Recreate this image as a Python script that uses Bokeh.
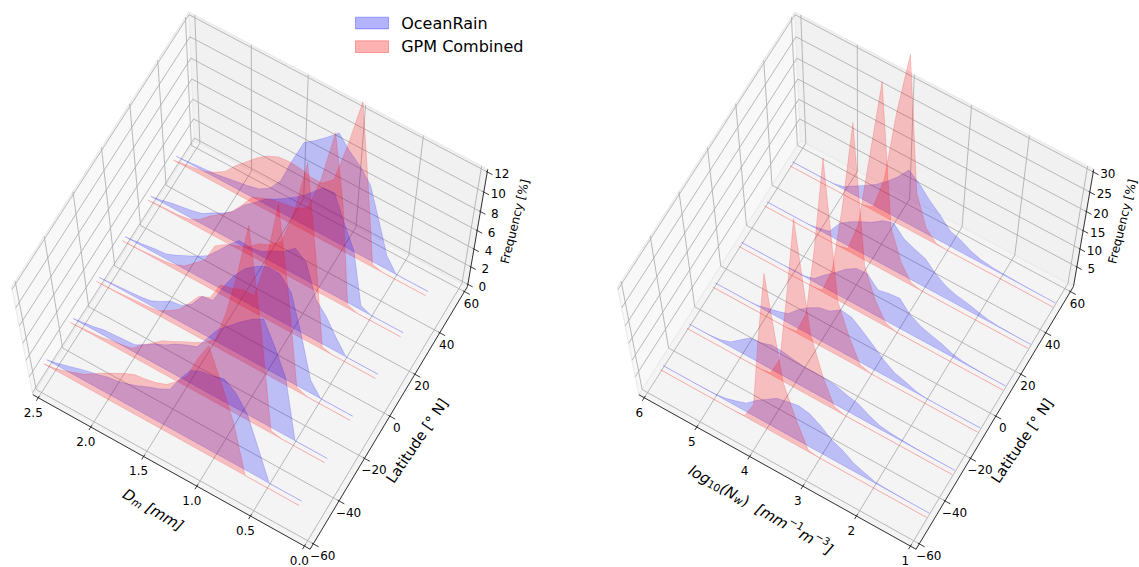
import math
import numpy as np
from bokeh.core.properties import value
from bokeh.embed import file_html
from bokeh.models import Range1d
from bokeh.plotting import figure
from bokeh.resources import INLINE

# ---------- data ----------
LAT_RED = [-50, -30, -10, 10, 30, 50]
LAT_BLUE = [-48, -28, -8, 12, 32, 52]

DM = [0.2, 0.3, 0.4, 0.5, 0.6, 0.7, 0.8, 0.9, 1.0, 1.1, 1.2, 1.3, 1.4, 1.5, 1.6, 1.7, 1.8, 1.9, 2.0, 2.1, 2.2, 2.3, 2.4, 2.5, 2.6]
DM_BLUE_1 = [0, 0, 0, 0, 3.7, 7.3, 9.1, 10, 9.6, 9.4, 8.8, 7.1, 5.1, 4.4, 3.9, 3.3, 2.8, 2.4, 2.2, 1.8, 1.5, 1.1, .7, .3, 0]
DM_BLUE_2 = [0, 0, 0, 0, 7, 9.9, 12.3, 11.6, 10.6, 9.5, 8.4, 6.7, 5, 4.5, 3.9, 3.1, 2.5, 1.7, 1, .9, .8, .7, .4, .2, 0]
DM_BLUE_3 = [0, 0, 0, 0, 1.6, 6.3, 10.3, 11.6, 11.7, 11.1, 10.2, 8.8, 6.9, 4.7, 4.5, 2.9, 2.1, 1.9, 1.2, .6, .4, .3, .2, .1, 0]
DM_BLUE_4 = [0, 0, 0, 0, 1.6, 3.4, 4.7, 8.1, 9, 8, 7.4, 6.7, 6.5, 6.6, 5.5, 4.2, 3, 2.3, 1.7, 1.1, .6, .5, .3, .15, 0]
DM_BLUE_5 = [0, 0, 0, 0, .5, 6, 8.3, 10.8, 10.7, 9.6, 8.6, 7.8, 7.1, 6.5, 5.5, 4.6, 3.3, 2.5, 1.9, 1.2, .9, .7, .5, .2, 0]
DM_BLUE_6 = [0, 0, 0, 0, 1.5, 4.7, 7.8, 9.1, 10, 11.2, 10.2, 9.3, 8.5, 6.1, 3.4, 2, 1.3, 1, .8, .6, .4, .3, .2, .1, 0]
DM_RED_1 = [0, 0, 0, 0, 0, 0, 6.1, 10, 13.5, 11.4, 8.7, 7.3, 6.2, 5.7, 5.4, 5.2, 4.6, 3.9, 3.2, 2.4, 1.6, 1.1, .6, .2, 0]
DM_RED_2 = [0, 0, 0, 0, 0, .3, 12, 21.5, 16, 11.4, 7.8, 6.7, 6, 5.4, 4.7, 4.1, 3.1, 2.2, 1.1, .8, .6, .3, .2, .1, 0]
DM_RED_3 = [0, 0, 0, 0, 0, .5, 10.5, 19, 12.6, 8.4, 8.4, 7.9, 7.6, 5.5, 5, 3.5, 2.1, 1.3, .6, .4, .3, .2, .1, .05, 0]
DM_RED_4 = [0, 0, 0, 0, 0, .3, 10, 18.5, 13, 9.5, 8.5, 8, 7, 6.5, 6, 5.2, 3, 2, 1, .5, .3, .2, .1, .05, 0]
DM_RED_5 = [0, 0, 0, 0, 0, .4, 10.5, 17, 12, 8.5, 7.8, 7.6, 7.4, 7, 6.5, 5, 3.7, 2.8, 2, 1, .4, .2, .15, .1, 0]
DM_RED_6 = [0, 0, 0, 0, 0, .3, 8.2, 15.7, 11, 7, 6, 6, 6.3, 6.4, 6.3, 5.8, 5, 4, 3, 1.8, 1.1, .6, .4, .2, 0]

NW = [1.0, 1.2, 1.4, 1.6, 1.8, 2.0, 2.2, 2.4, 2.6, 2.8, 3.0, 3.2, 3.4, 3.6, 3.8, 4.0, 4.2, 4.4, 4.6, 4.8, 5.0, 5.2, 5.4, 5.6, 5.8, 6.0]
NW_BLUE_1 = [0, 0, .05, .1, .2, .4, 1.5, 2.7, 4.9, 6.4, 9, 10.9, 11.5, 10.8, 10, 7.8, 5.6, 2.9, 1.7, .7, .2, .1, 0, 0, 0, 0]
NW_BLUE_2 = [0, 0, .05, .1, .2, .4, .6, 1.1, 2.5, 4.3, 5, 6, 6.4, 6.5, 6.5, 7, 7.6, 7.7, 6.6, 6.3, 4, 1.6, .5, .1, 0, 0]
NW_BLUE_3 = [0, 0, 0, 0, 0, 0, .5, 1.6, 2.5, 4.5, 7.2, 9.7, 12, 12.5, 10.4, 9.7, 8, 5.7, 2.8, 1.8, 1, .2, 0, 0, 0, 0]
NW_BLUE_4 = [0, 0, .1, .2, .4, 1, 2.2, 3, 4, 5.6, 8.7, 8.4, 7.7, 10.7, 10.5, 8.6, 6, 3.7, 1, .2, .2, 0, 0, 0, 0, 0]
NW_BLUE_5 = [0, 0, .1, .2, .5, 1.2, 2, 2.5, 3.5, 5.3, 8, 9, 10.2, 13, 12, 10, 8.6, 7, 5, 1.2, .5, 0, 0, 0, 0, 0]
NW_BLUE_6 = [0, 0, .05, .1, .2, .3, .5, .9, 1.8, 3.3, 4.2, 7, 9.3, 12.2, 14.3, 11, 8.3, 6, 4.2, 2.5, .8, .1, 0, 0, 0, 0]
NW_RED_1 = [0, 0, 0, 0, 0, 0, 0, 0, 0, 0, 0, .5, 8.4, 18, 45.8, 27, 5.6, .3, 0, 0, 0, 0, 0, 0, 0, 0]
NW_RED_2 = [0, 0, 0, 0, 0, 0, 0, 0, 0, 0, 0, 1, 8.6, 19.4, 47.5, 26, 6.5, .5, 0, 0, 0, 0, 0, 0, 0, 0]
NW_RED_3 = [0, 0, 0, 0, 0, 0, 0, 0, 0, 0, 0, 1, 7.5, 16, 50.6, 27, 7.5, .5, 0, 0, 0, 0, 0, 0, 0, 0]
NW_RED_4 = [0, 0, 0, 0, 0, 0, 0, 0, 0, 0, 0, 1, 6, 14, 48, 26, 8, .5, 0, 0, 0, 0, 0, 0, 0, 0]
NW_RED_5 = [0, 0, 0, 0, 0, 0, 0, 0, 0, 0, 0, .7, 5, 13, 46.8, 28, 9, .7, 0, 0, 0, 0, 0, 0, 0, 0]
NW_RED_6 = [0, 0, 0, 0, 0, 0, 0, 0, 0, 0, 0, .3, 3, 11, 42.8, 28.5, 10, 1, 0, 0, 0, 0, 0, 0, 0, 0]

DM_TICKS = [0.0, 0.5, 1.0, 1.5, 2.0, 2.5]
DM_LABELS = ["0.0", "0.5", "1.0", "1.5", "2.0", "2.5"]
NW_TICKS = [1, 2, 3, 4, 5, 6]
NW_LABELS = ["1", "2", "3", "4", "5", "6"]
LAT_TICKS = [-60, -40, -20, 0, 20, 40, 60]
LAT_LABELS = ["\u221260", "\u221240", "\u221220", "0", "20", "40", "60"]
FREQ_TICKS_L = [0, 2, 4, 6, 8, 10, 12]
FREQ_TICKS_R = [5, 10, 15, 20, 25, 30]
LEGEND_NAMES = ["OceanRain", "GPM Combined"]

BLUE, RED = "#0000ff", "#ff0000"
FONT = value("DejaVu Sans")
W, H = 1139, 567
PAD = 1 / 48
U0, U1 = -PAD, 1 + PAD

# ---------- camera: fitted to where the box's ticks sit in the page ----------
CAL = [
    (1, U0, U0, 37.7, 397.7), (.8, U0, U0, 90.7, 427), (.6, U0, U0, 143, 456),
    (.4, U0, U0, 196.7, 485), (.2, U0, U0, 250, 514), (0, U0, U0, 303.5, 544.5),
    (U0, 0, U0, 312.7, 544.3), (U0, 1 / 6, U0, 338.3, 501), (U0, 2 / 6, U0, 364.3, 458),
    (U0, .5, U0, 390, 416.3), (U0, 4 / 6, U0, 415, 374.5), (U0, 5 / 6, U0, 440, 333.3), (U0, 1, U0, 464, 291.7),
    (U0, U1, 0, 467, 283.5), (U0, U1, 1 / 6, 468.9, 265.8), (U0, U1, 2 / 6, 472.3, 249),
    (U0, U1, .5, 476.7, 230), (U0, U1, 4 / 6, 480, 210.7), (U0, U1, 5 / 6, 484, 191.7), (U0, U1, 1, 485.7, 170),
    (1, U1, U1, 194.3, 16), (.8, U1, U1, 250.7, 45), (.6, U1, U1, 307.3, 75),
    (.4, U1, U1, 365, 104), (.2, U1, U1, 423.3, 135), (0, U1, U1, 482.3, 165.7),
    (U1, 0, U1, 14, 280), (U1, 1 / 6, U1, 43.3, 238), (U1, 2 / 6, U1, 72.7, 190), (U1, .5, U1, 101, 146.7),
    (U1, 4 / 6, U1, 129, 103.3), (U1, 5 / 6, U1, 156.7, 60), (U1, 1, U1, 186.7, 16),
    (1, U1, U0, 199, 141), (U1, 1, U0, 191, 145),
]
A, b = [], []
for u, v, w, X, Y in CAL:
    A.append([u, v, w, 1, 0, 0, 0, 0, -X * u, -X * v, -X * w]); b.append(X)
    A.append([0, 0, 0, 0, u, v, w, 1, -Y * u, -Y * v, -Y * w]); b.append(Y)
CAM = np.append(np.linalg.lstsq(np.array(A, float), np.array(b, float), rcond=None)[0], 1.0).reshape(3, 4)


def project(u, v, w, dx=0.0):
    pts = np.stack([np.asarray(u, float), np.asarray(v, float), np.asarray(w, float), np.ones_like(np.asarray(u, float))])
    q = CAM @ pts
    return q[0] / q[2] + dx, q[1] / q[2]


p = figure(width=W, height=H, x_range=Range1d(0, W), y_range=Range1d(H, 0),
           output_backend="svg", toolbar_location=None, min_border=0)
p.axis.visible = False
p.grid.visible = False
p.outline_line_color = None
p.background_fill_color = "white"
p.border_fill_color = "white"


def put_text(x, y, s, size=12, angle=0.0, align="center", baseline="middle", style="normal", color="#000000"):
    p.text([x], [y], text=[s], angle=angle, text_font=FONT, text_font_size=f"{size}px",
           text_align=align, text_baseline=baseline, text_font_style=style, text_color=color)


def put_rich(cx, cy, deg, pieces):
    # pieces: text, size, width in em, perpendicular shift in em of the base size, style
    a = math.radians(deg)
    ux, uy = math.cos(a), -math.sin(a)
    nx, ny = math.sin(a), math.cos(a)
    total = sum(s * e for _, s, e, _, _ in pieces)
    base = max(s for _, s, _, _, _ in pieces)
    pos = -total / 2
    for txt, s, e, sh, st in pieces:
        off = 0.35 * base + sh * base
        if txt.strip():
            put_text(cx + ux * pos + nx * off, cy + uy * pos + ny * off, txt, size=s, angle=a,
                     align="left", baseline="alphabetic", style=st)
        pos += s * e


def seg(pts, dx, color="#b0b0b0", width=0.9):
    us, vs, ws = zip(*pts)
    xs, ys = project(us, vs, ws, dx)
    p.line(list(xs), list(ys), line_color=color, line_width=width)


def panel(dx, xvals, xmin, xmax, zmax, blues, reds, xticks, xlabels, zticks):
    to_u = lambda x: (np.asarray(x, float) - xmin) / (xmax - xmin)
    to_v = lambda lat: (np.asarray(lat, float) + 60) / 120
    to_w = lambda z: np.asarray(z, float) / zmax

    for quad, col in (
        ([(U1, U0, U0), (U1, U1, U0), (U1, U1, U1), (U1, U0, U1)], "#f8f8f8"),
        ([(U0, U1, U0), (U1, U1, U0), (U1, U1, U1), (U0, U1, U1)], "#f1f1f1"),
        ([(U0, U0, U0), (U1, U0, U0), (U1, U1, U0), (U0, U1, U0)], "#f4f4f4"),
    ):
        us, vs, ws = zip(*quad)
        xs, ys = project(us, vs, ws, dx)
        p.patch(list(xs), list(ys), fill_color=col, line_color="#ebebeb", line_width=1.2)

    for t in xticks:
        u = float(to_u(t))
        seg([(u, U0, U0), (u, U1, U0), (u, U1, U1)], dx)
    for t in LAT_TICKS:
        v = float(to_v(t))
        seg([(U0, v, U0), (U1, v, U0), (U1, v, U1)], dx)
    for t in zticks:
        w = float(to_w(t))
        seg([(U1, U0, w), (U1, U1, w), (U0, U1, w)], dx)

    seg([(U0, U0, U0), (U1, U0, U0)], dx, "#333333", 1)
    seg([(U0, U0, U0), (U0, U1, U0)], dx, "#333333", 1)
    seg([(U0, U1, U0), (U0, U1, U1)], dx, "#333333", 1)

    for t, s in zip(xticks, xlabels):
        u = float(to_u(t))
        seg([(u, U0 + .007, U0), (u, U0 - .012, U0)], dx, "#222222", 0.9)
        x, y = project([u], [U0], [U0], dx)
        put_text(float(x[0]) - 5, float(y[0]) + 14.5, s)
    for t, s in zip(LAT_TICKS, LAT_LABELS):
        v = float(to_v(t))
        seg([(U0 + .005, v, U0), (U0 - .02, v, U0)], dx, "#222222", 0.9)
        x, y = project([U0], [v], [U0], dx)
        put_text(float(x[0]) + (9.5 if t < 0 else 7), float(y[0]) + 11.5, s)
    for t in zticks:
        w = float(to_w(t))
        seg([(U0 + .004, U1, w), (U0 - .018, U1, w)], dx, "#222222", 0.9)
        x, y = project([U0], [U1], [w], dx)
        put_text(float(x[0]) + 14.5, float(y[0]) + 1.8, str(t))

    # back to front, the blue sheet of each band just behind the red one
    for blue, red, lb, lr in list(zip(blues, reds, LAT_BLUE, LAT_RED))[::-1]:
        for zs, lat, col in ((blue, lb, BLUE), (red, lr, RED)):
            u = to_u(xvals)
            xs, ys = project(u, np.full_like(u, float(to_v(lat))), to_w(zs), dx)
            x0, y0 = project(u[[0, -1]], np.full(2, float(to_v(lat))), np.zeros(2), dx)
            px = [float(x0[0])] + list(xs) + [float(x0[1])]
            py = [float(y0[0])] + list(ys) + [float(y0[1])]
            p.patch(px, py, fill_color=col, fill_alpha=0.22, line_color=col, line_alpha=0.16, line_width=1)


panel(0.0, DM, 0.0, 2.5, 12.0,
      [DM_BLUE_1, DM_BLUE_2, DM_BLUE_3, DM_BLUE_4, DM_BLUE_5, DM_BLUE_6],
      [DM_RED_1, DM_RED_2, DM_RED_3, DM_RED_4, DM_RED_5, DM_RED_6],
      DM_TICKS, DM_LABELS, FREQ_TICKS_L)
panel(606.0, NW, 1.0, 6.0, 30.0,
      [NW_BLUE_1, NW_BLUE_2, NW_BLUE_3, NW_BLUE_4, NW_BLUE_5, NW_BLUE_6],
      [NW_RED_1, NW_RED_2, NW_RED_3, NW_RED_4, NW_RED_5, NW_RED_6],
      NW_TICKS, NW_LABELS, FREQ_TICKS_R)

# axis titles
put_rich(155.3, 505, -30.7, [("D", 15, .77, 0, "italic"), ("m", 10.5, .974, .15, "italic"),
                             (" ", 15, .318, 0, "normal"), ("[mm]", 15, 2.73, 0, "italic")])
put_rich(762.7, 505, -30, [("log", 15, 1.525, 0, "italic"), ("10", 10.5, 1.272, .15, "normal"),
                           ("(N", 15, 1.138, 0, "italic"), ("w", 10.5, .818, .15, "italic"),
                           (")", 15, .39, 0, "normal"), (" ", 15, .64, 0, "normal"),
                           ("[mm", 15, 2.338, 0, "italic"),
                           ("\u22121", 10.5, 1.474, -.42, "normal"), ("m", 15, .974, 0, "italic"),
                           ("\u22123", 10.5, 1.474, -.42, "normal"), ("]", 15, .39, 0, "italic")])
for cx in (416.7, 1021.7):
    put_text(cx, 440.3, "Latitude [\u00b0 N]", size=14.5, angle=math.radians(56))
for cx in (514.5, 1122):
    put_text(cx, 221, "Frequency [%]", size=12, angle=math.radians(76))

# legend
for name, col, top in zip(LEGEND_NAMES, (BLUE, RED), (16.7, 40.3)):
    p.quad(left=[355], right=[388], top=[top], bottom=[top + 11.7], fill_color=col, fill_alpha=0.3,
           line_color=col, line_alpha=0.3, line_width=1)
    put_text(400.7, top + 6.1, name, size=16, align="left")

open("out.html", "w").write(file_html(p, INLINE))
